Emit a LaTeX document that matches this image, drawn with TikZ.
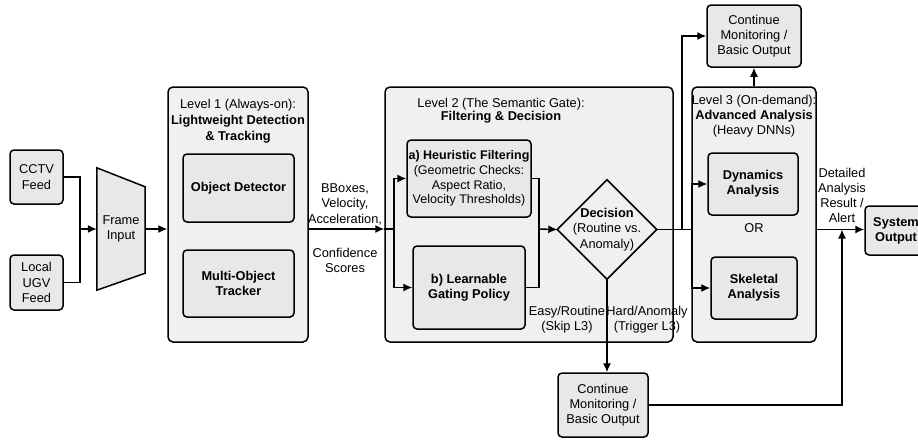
\documentclass[tikz,border=0pt]{standalone}
\usepackage{fontspec}
\setmainfont{Liberation Sans}
\usetikzlibrary{arrows.meta}
\definecolor{boxfill}{HTML}{E8E8E8}
\definecolor{levelfill}{HTML}{F0F0F0}
\begin{document}
\begin{tikzpicture}[x=1pt,y=-1pt, font=\fontsize{12.8}{15.2}\selectfont,
 box/.style={draw, line width=1.5pt, rounded corners=4pt, fill=boxfill, align=center, inner sep=0pt},
 level/.style={draw, line width=1.5pt, rounded corners=5pt, fill=levelfill, inner sep=0pt},
 txt/.style={align=center, inner sep=0pt},
 ln/.style={line width=1.4pt},
 arr/.style={ln, -{Latex[length=9pt,width=8pt]}}]
\useasboundingbox[fill=white] (0,0) rectangle (918,439);

% level containers
\node[level, minimum width=140pt, minimum height=255pt] (L1) at (238,214.5) {};
\node[level, minimum width=288pt, minimum height=255pt] (L2) at (529,214.5) {};
\node[level, minimum width=124pt, minimum height=255pt] (L3) at (754,214.5) {};

% titles
\node[txt, font=\fontsize{12.8}{16}\selectfont] (t1) at (238,121) {Level 1 (Always-on):\\\textbf{Lightweight Detection}\\\textbf{\& Tracking}};
\node[txt, font=\fontsize{12.8}{13.5}\selectfont] (t2) at (501,110.5) {Level 2 (The Semantic Gate):\\\textbf{Filtering \& Decision}};
\node[txt] (t3) at (754,116) {Level 3 (On-demand):\\\textbf{Advanced Analysis}\\(Heavy DNNs)};

% inputs
\node[box, minimum width=53pt, minimum height=54pt] (cctv) at (36.5,177) {CCTV\\Feed};
\node[box, minimum width=53pt, minimum height=55pt] (ugv) at (36.5,282.5) {Local\\UGV\\Feed};

% frame input trapezoid
\node[minimum width=48pt, minimum height=122pt, inner sep=0pt] (frame) at (121,229) {};
\draw[line width=1.5pt, fill=boxfill] (frame.north west) -- ([yshift=-19pt]frame.north east) -- ([yshift=17pt]frame.south east) -- (frame.south west) -- cycle;
\node[txt] (ftxt) at (frame.center) {Frame\\Input};

% level 1 boxes
\node[box, minimum width=111pt, minimum height=68pt] (det) at (238.5,188) {\textbf{Object Detector}};
\node[box, minimum width=111pt, minimum height=67pt] (mot) at (238.5,283.5) {\textbf{Multi-Object}\\\textbf{Tracker}};

% level 2 boxes
\node[box, minimum width=124pt, minimum height=77pt, font=\fontsize{12.5}{14.7}\selectfont] (heur) at (469,178.5) {\textbf{a) Heuristic Filtering}\\(Geometric Checks:\\Aspect Ratio,\\Velocity Thresholds)};
\node[box, minimum width=112pt, minimum height=83pt] (learn) at (469,287.5) {\textbf{b) Learnable}\\\textbf{Gating Policy}};

% decision diamond
\node[minimum width=99pt, minimum height=99pt, inner sep=0pt] (dec) at (607,229.5) {};
\draw[line width=1.5pt, fill=levelfill] (dec.north) -- (dec.east) -- (dec.south) -- (dec.west) -- cycle;
\node[txt] (dtxt) at (dec.center) {\textbf{Decision}\\(Routine vs.\\Anomaly)};

% outputs
\node[box, minimum width=90pt, minimum height=64pt] (cont2) at (603,405) {Continue\\Monitoring /\\Basic Output};
\node[box, minimum width=94pt, minimum height=62pt] (cont1) at (754,36) {Continue\\Monitoring /\\Basic Output};

% level 3 boxes
\node[box, minimum width=90pt, minimum height=62pt] (dyn) at (753,184) {\textbf{Dynamics}\\\textbf{Analysis}};
\node[txt] (or) at (754,228) {OR};
\node[box, minimum width=86pt, minimum height=62pt] (skel) at (754,288) {\textbf{Skeletal}\\\textbf{Analysis}};

% system output
\node[box, minimum width=62pt, minimum height=49pt] (sys) at (896,230.5) {\textbf{System}\\\textbf{Output}};

% junctions
\coordinate (j1) at (80,229);
\coordinate (j2) at (394,229);
\coordinate (j3) at (539,229);
\coordinate (j4) at (682,229.5);
\coordinate (j5) at (842,229.5);

% connectors
\draw[ln] (cctv.east) -| (j1);
\draw[ln] (ugv.east) -| (j1);
\draw[arr] (j1) -- (frame.west |- j1);
\draw[arr] (frame.east |- j1) -- (L1.west |- j1);
\draw[arr] (L1.east |- j1) -- (L2.west |- j1);
\draw[ln] (L2.west |- j1) -- (j2);
\draw[arr] (j2) |- (heur.west);
\draw[arr] (j2) |- (learn.west);
\draw[ln] (heur.east) -| (j3);
\draw[ln] (learn.east) -| (j3);
\draw[arr] (j3) -- (dec.west);
\draw[arr] (dec.south) -- (dec.south |- cont2.north);
\draw[ln] (dec.east) -- (L3.west |- dec.east);
\draw[arr] (j4) |- (cont1.west);
\draw[ln] (L3.west |- dyn.west) -- (L3.west |- skel.west);
\draw[arr] (L3.west |- dyn.west) -- (dyn.west);
\draw[arr] (L3.west |- skel.west) -- (skel.west);
\draw[arr] (L3.north) -- (cont1.south);
\draw[arr] (L3.east |- j5) -- (sys.west |- j5);
\draw[arr] (cont2.east) -| (j5);

% labels
\node[txt, anchor=south] (lb1) at (345,225) {BBoxes,\\Velocity,\\Acceleration,};
\node[txt] (lb2) at (345,260.5) {Confidence\\Scores};
\node[txt] (lb3) at (567,320) {Easy/Routine\\(Skip L3)};
\node[txt] (lb4) at (647,320) {Hard/Anomaly\\(Trigger L3)};
\node[txt] (lb5) at (842,195.5) {Detailed\\Analysis\\Result /\\Alert};
\end{tikzpicture}
\end{document}
